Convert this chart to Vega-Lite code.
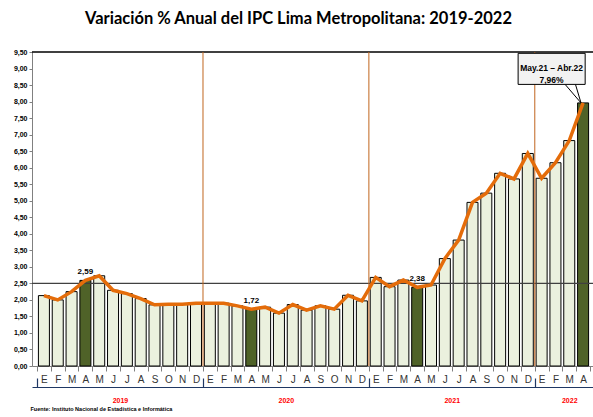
{
  "$schema": "https://vega.github.io/schema/vega-lite/v6.json",
  "width": 563,
  "height": 314,
  "autosize": {"type": "none"},
  "padding": {"left": 32, "top": 52, "right": 0, "bottom": 51},
  "background": "white",
  "config": {
    "view": {"stroke": null},
    "font": "Liberation Sans",
    "locale": {"number": {"decimal": ",", "thousands": ".", "grouping": [3], "currency": ["", " €"]}}
  },
  "title": {
    "text": "Variación % Anual del IPC Lima Metropolitana: 2019-2022",
    "font": "Lato",
    "fontSize": 16.5,
    "fontWeight": "bold",
    "color": "#000000",
    "anchor": "middle",
    "frame": "group",
    "dx": -15,
    "offset": 21
  },
  "data": {
    "values": [
      {"i": 0, "anio": 2019, "mes": "E", "v": 2.13},
      {"i": 1, "anio": 2019, "mes": "F", "v": 2.00},
      {"i": 2, "anio": 2019, "mes": "M", "v": 2.25},
      {"i": 3, "anio": 2019, "mes": "A", "v": 2.59},
      {"i": 4, "anio": 2019, "mes": "M", "v": 2.73},
      {"i": 5, "anio": 2019, "mes": "J", "v": 2.29},
      {"i": 6, "anio": 2019, "mes": "J", "v": 2.19},
      {"i": 7, "anio": 2019, "mes": "A", "v": 2.04},
      {"i": 8, "anio": 2019, "mes": "S", "v": 1.85},
      {"i": 9, "anio": 2019, "mes": "O", "v": 1.87},
      {"i": 10, "anio": 2019, "mes": "N", "v": 1.87},
      {"i": 11, "anio": 2019, "mes": "D", "v": 1.90},
      {"i": 12, "anio": 2020, "mes": "E", "v": 1.90},
      {"i": 13, "anio": 2020, "mes": "F", "v": 1.90},
      {"i": 14, "anio": 2020, "mes": "M", "v": 1.82},
      {"i": 15, "anio": 2020, "mes": "A", "v": 1.72},
      {"i": 16, "anio": 2020, "mes": "M", "v": 1.78},
      {"i": 17, "anio": 2020, "mes": "J", "v": 1.60},
      {"i": 18, "anio": 2020, "mes": "J", "v": 1.86},
      {"i": 19, "anio": 2020, "mes": "A", "v": 1.69},
      {"i": 20, "anio": 2020, "mes": "S", "v": 1.82},
      {"i": 21, "anio": 2020, "mes": "O", "v": 1.72},
      {"i": 22, "anio": 2020, "mes": "N", "v": 2.14},
      {"i": 23, "anio": 2020, "mes": "D", "v": 1.97},
      {"i": 24, "anio": 2021, "mes": "E", "v": 2.68},
      {"i": 25, "anio": 2021, "mes": "F", "v": 2.40},
      {"i": 26, "anio": 2021, "mes": "M", "v": 2.60},
      {"i": 27, "anio": 2021, "mes": "A", "v": 2.38},
      {"i": 28, "anio": 2021, "mes": "M", "v": 2.45},
      {"i": 29, "anio": 2021, "mes": "J", "v": 3.25},
      {"i": 30, "anio": 2021, "mes": "J", "v": 3.81},
      {"i": 31, "anio": 2021, "mes": "A", "v": 4.95},
      {"i": 32, "anio": 2021, "mes": "S", "v": 5.23},
      {"i": 33, "anio": 2021, "mes": "O", "v": 5.83},
      {"i": 34, "anio": 2021, "mes": "N", "v": 5.66},
      {"i": 35, "anio": 2021, "mes": "D", "v": 6.43},
      {"i": 36, "anio": 2022, "mes": "E", "v": 5.68},
      {"i": 37, "anio": 2022, "mes": "F", "v": 6.15},
      {"i": 38, "anio": 2022, "mes": "M", "v": 6.82},
      {"i": 39, "anio": 2022, "mes": "A", "v": 7.96}
    ]
  },
  "layer": [
    {
      "mark": {"type": "bar", "size": 11, "stroke": "#000000", "strokeWidth": 1, "orient": "vertical"},
      "encoding": {
        "x": {
          "field": "i", "type": "quantitative",
          "scale": {"domain": [-0.5, 39.5], "nice": false, "zero": false},
          "axis": {
            "orient": "bottom", "title": null, "grid": false,
            "values": [0,1,2,3,4,5,6,7,8,9,10,11,12,13,14,15,16,17,18,19,20,21,22,23,24,25,26,27,28,29,30,31,32,33,34,35,36,37,38,39],
            "labelExpr": "['E','F','M','A','M','J','J','A','S','O','N','D'][datum.value % 12]",
            "ticks": false, "domainColor": "#808080", "domainWidth": 1,
            "labelFontSize": 10, "labelColor": "#333333", "labelPadding": 8,
            "labelFlush": false, "labelOverlap": false
          }
        },
        "y": {
          "field": "v", "type": "quantitative",
          "scale": {"domain": [0, 9.5], "nice": false, "zero": true},
          "axis": {
            "orient": "left", "title": null, "grid": false,
            "values": [0,0.5,1,1.5,2,2.5,3,3.5,4,4.5,5,5.5,6,6.5,7,7.5,8,8.5,9,9.5],
            "format": ".2f", "labelFontSize": 7, "labelFontWeight": "bold", "labelColor": "#000000",
            "tickSize": 3, "tickColor": "#808080", "domainColor": "#808080", "labelPadding": 2
          }
        },
        "fill": {"condition": {"test": "datum.i % 12 == 3", "value": "#4F6228"}, "value": "#EBF1DE"}
      }
    },
    {
      "data": {"values": [{}]},
      "mark": {"type": "rule", "color": "#404040", "strokeWidth": 1.2},
      "encoding": {"y": {"datum": 2.5, "type": "quantitative", "axis": null}}
    },
    {
      "data": {"values": [{}]},
      "mark": {"type": "rule", "color": "#000000", "strokeWidth": 1.5},
      "encoding": {"y": {"datum": 9.5, "type": "quantitative", "axis": null}}
    },
    {
      "transform": [{"filter": "datum.i % 12 == 11 && datum.i < 39"}],
      "mark": {"type": "rule", "color": "#C0651E", "strokeWidth": 1, "xOffset": 7},
      "encoding": {
        "x": {
          "field": "i", "type": "quantitative",
          "axis": {
            "orient": "bottom", "title": null, "grid": false, "labels": false,
            "values": [-0.5, 11.5, 23.5, 35.5],
            "offset": 21, "domainColor": "#1F3864", "domainWidth": 1.2,
            "ticks": true, "tickColor": "#1F3864", "tickSize": -9, "tickWidth": 1.2
          }
        }
      }
    },
    {
      "mark": {"type": "line", "color": "#E46C0A", "strokeWidth": 3.5},
      "encoding": {
        "x": {
          "field": "i", "type": "quantitative",
          "axis": {
            "orient": "bottom", "title": null, "grid": false, "labels": false, "domain": false,
            "values": [-0.5,0.5,1.5,2.5,3.5,4.5,5.5,6.5,7.5,8.5,9.5,10.5,11.5,12.5,13.5,14.5,15.5,16.5,17.5,18.5,19.5,20.5,21.5,22.5,23.5,24.5,25.5,26.5,27.5,28.5,29.5,30.5,31.5,32.5,33.5,34.5,35.5,36.5,37.5,38.5,39.5],
            "ticks": true, "tickSize": 5, "tickColor": "#808080"
          }
        },
        "y": {"field": "v", "type": "quantitative", "axis": null}
      }
    },
    {
      "transform": [{"filter": "datum.i % 12 == 3 && datum.i < 39"}],
      "mark": {"type": "text", "fontSize": 8, "fontWeight": "bold", "color": "#000000", "dy": -8},
      "encoding": {
        "x": {
          "field": "i", "type": "quantitative",
          "axis": {
            "orient": "bottom", "grid": false, "domain": false, "ticks": false,
            "values": [5.5, 17.5, 29.5, 38],
            "labelExpr": "'' + (2019 + floor(datum.value / 12))",
            "labelColor": "#FF0000", "labelFontWeight": "bold", "labelFontSize": 7, "labelPadding": 30,
            "labelFlush": false, "labelOverlap": false,
            "title": "Fuente: Instituto Nacional de Estadística e Informática",
            "titleAnchor": "start", "titleAlign": "left", "titleFontSize": 5.5, "titleFontWeight": "bold",
            "titleFont": "Liberation Sans", "titlePadding": 3, "titleColor": "#000000", "titleX": -2
          }
        },
        "y": {"field": "v", "type": "quantitative", "axis": null},
        "text": {"field": "v", "type": "quantitative", "format": ".2f"}
      }
    },
    {
      "data": {"values": [{}]},
      "mark": {"type": "rule", "color": "#000000", "strokeWidth": 1},
      "encoding": {
        "x": {"datum": 37.7, "type": "quantitative", "axis": null},
        "y": {"datum": 8.52, "type": "quantitative", "axis": null},
        "x2": {"datum": 38.85},
        "y2": {"datum": 7.96}
      }
    },
    {
      "data": {"values": [{}]},
      "mark": {"type": "rule", "color": "#000000", "strokeWidth": 1},
      "encoding": {
        "x": {"datum": 38.45, "type": "quantitative", "axis": null},
        "y": {"datum": 8.52, "type": "quantitative", "axis": null},
        "x2": {"datum": 38.85},
        "y2": {"datum": 7.96}
      }
    },
    {
      "data": {"values": [{}]},
      "mark": {"type": "rect", "fill": "#F2F2F2", "stroke": "#000000", "strokeWidth": 1},
      "encoding": {
        "x": {"datum": 34.3, "type": "quantitative", "axis": null},
        "x2": {"datum": 39.15},
        "y": {"datum": 9.46, "type": "quantitative", "axis": null},
        "y2": {"datum": 8.52}
      }
    },
    {
      "data": {"values": [{}]},
      "mark": {"type": "text", "font": "Liberation Sans", "fontSize": 8.5, "fontWeight": "bold", "color": "#000000", "lineHeight": 12, "baseline": "middle", "align": "center"},
      "encoding": {
        "x": {"datum": 36.72, "type": "quantitative", "axis": null},
        "y": {"datum": 9.01, "type": "quantitative", "axis": null},
        "text": {"value": ["May.21 – Abr.22", "7,96%"]}
      }
    }
  ],
  "resolve": {"axis": {"x": "independent", "y": "independent"}}
}
